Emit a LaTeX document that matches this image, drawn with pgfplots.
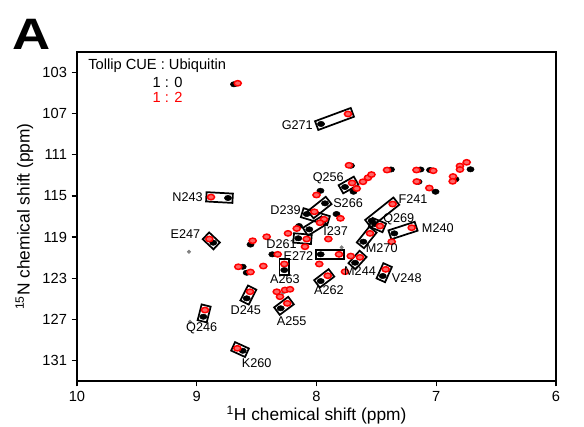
\documentclass[border=0pt]{standalone}
\usepackage{fontspec}
\setmainfont{Liberation Sans}
\usepackage{pgfplots}
\pgfplotsset{compat=1.18}
\usetikzlibrary{calc}

\newcommand{\pbox}[4]{\draw[line width=1.3pt] let \p1=(axis cs:#1,#2), \p2=(axis cs:#3,#4), \n1={atan2(\y2-\y1,\x2-\x1)}, \n2={veclen(\x2-\x1,\y2-\y1)} in ($(\p1)!0.5!(\p2)$) node[draw, line width=1.3pt, rotate=\n1, minimum width=\n2+7pt, minimum height=7pt, inner sep=0pt] {};}

\begin{document}
\begin{tikzpicture}
\useasboundingbox (-57.75pt,-34.5pt) rectangle (380.25pt,285.75pt);
\begin{axis}[at={(0,0)}, anchor=south west, scale only axis,
  width=359.25pt, height=246.75pt,
  xmin=6, xmax=10, x dir=reverse, ymin=101, ymax=133, y dir=reverse,
  xtick={6,7,8,9,10}, ytick={103,107,111,115,119,123,127,131},
  tick align=outside, xtick pos=bottom, ytick pos=left, major tick length=4pt,
  axis line style={line width=1.1pt}, tick style={line width=1pt, black},
  ticklabel style={font=\fontsize{11}{11}\selectfont},
  /pgf/number format/assume math mode=true,
  xlabel={\textsuperscript{1}H chemical shift (ppm)},
  ylabel={\textsuperscript{15}N chemical shift (ppm)},
  label style={font=\fontsize{13}{13}\selectfont},
  xlabel style={yshift=3pt},
  clip=false]
% boxes
\pbox{7.962}{108.00}{7.737}{107.03}
\pbox{7.762}{114.13}{7.703}{113.74}
\pbox{8.881}{115.11}{8.739}{115.20}
\pbox{8.018}{116.54}{7.929}{115.72}
\pbox{8.082}{116.76}{7.937}{117.27}
\pbox{8.060}{118.25}{7.971}{117.61}
\pbox{7.539}{117.41}{7.364}{115.79}
\pbox{7.511}{117.73}{7.470}{117.93}
\pbox{7.350}{118.64}{7.205}{118.09}
\pbox{7.609}{119.45}{7.553}{118.64}
\pbox{8.895}{119.19}{8.862}{119.55}
\pbox{8.152}{119.12}{8.082}{119.19}
\pbox{7.965}{120.68}{7.812}{120.68}
\pbox{7.678}{121.50}{7.637}{120.97}
\pbox{8.269}{121.62}{8.269}{122.21}
\pbox{7.422}{122.14}{7.447}{122.79}
\pbox{7.965}{123.28}{7.906}{122.76}
\pbox{8.555}{124.32}{8.583}{124.96}
\pbox{8.299}{125.93}{8.244}{125.45}
\pbox{8.931}{126.10}{8.945}{126.75}
\pbox{8.661}{129.82}{8.616}{130.06}
% 1:0 (black)
\addplot[only marks, mark=*, mark size=2pt, mark options={xscale=1.35, fill=black, draw=black}] coordinates {
(8.689,104.14) (7.962,108.00) (7.712,112.06) (7.378,112.43) (7.131,112.43)
(7.052,112.48) (6.714,112.41) (6.839,113.38) (7.148,113.62) (7.006,114.59)
(7.691,114.59) (7.762,114.13) (7.967,114.50) (8.739,115.20) (7.929,115.72)
(8.082,116.76) (7.833,116.76) (8.060,118.25) (7.539,117.41) (7.511,117.73)
(7.350,118.64) (7.609,119.45) (8.862,119.55) (8.152,119.12) (8.146,117.93)
(8.551,119.73) (8.369,120.68) (7.965,120.68) (7.678,121.50) (8.269,122.21)
(7.447,122.79) (7.965,123.28) (8.616,121.89) (8.583,122.47) (8.299,125.93)
(8.583,124.96) (8.945,126.75) (8.616,130.06)
};
\addplot[only marks, mark=*, mark size=1.3pt, mark options={fill=gray, draw=gray}] coordinates {
(9.065,120.43) (8.280,124.44) (9.056,127.24) (7.790,120.00)
};
% 1:2 (red)
\addplot[only marks, mark=*, mark size=2pt, mark options={xscale=1.35, fill=red!60!white, draw=red, line width=1.1pt}] coordinates {
(8.658,104.04) (7.737,107.03) (7.729,112.02) (7.411,112.48) (7.165,112.48)
(7.025,112.55) (6.802,112.09) (6.746,111.73) (6.802,112.43) (6.860,113.11)
(6.863,113.58) (7.163,113.60) (7.058,114.23) (7.612,113.62) (7.570,113.23)
(7.541,112.92) (7.664,114.28) (7.703,113.74) (8.000,114.91) (8.881,115.11)
(8.018,116.54) (7.937,117.27) (7.800,117.18) (7.971,117.61) (7.364,115.79)
(7.470,117.93) (7.205,118.09) (7.372,119.45) (7.553,118.64) (8.895,119.19)
(8.082,119.19) (7.901,119.19) (8.165,118.17) (8.238,118.64) (8.416,118.97)
(8.533,119.36) (8.324,120.68) (8.096,119.94) (7.812,120.68) (7.714,120.85)
(7.637,120.97) (7.762,122.37) (7.977,121.62) (8.269,121.62) (7.422,122.14)
(7.906,122.76) (8.653,121.89) (8.444,121.82) (8.551,122.40) (8.332,124.32)
(8.263,124.15) (8.221,124.08) (8.305,124.80) (8.244,125.45) (8.555,124.32)
(8.931,126.10) (8.661,129.82)
};
\end{axis}
\begin{scope}[x=0.75pt, y=-0.75pt, shift={(-57.75pt,285.75pt)}]
\node[font=\fontsize{33}{33}\selectfont\bfseries, anchor=base west, inner sep=0pt, xscale=1.2] at (12,50) {A};
\begin{scope}[font=\fontsize{11}{11}\selectfont]
\node[anchor=west, inner sep=0pt] at (88,66) {Tollip CUE : Ubiquitin};
\node[inner sep=0pt] at (167.5,82) {1 : 0};
\node[inner sep=0pt, text=red] at (167.5,97) {1 : 2};
\end{scope}
\begin{scope}[font=\fontsize{9.5}{9.5}\selectfont, inner sep=0pt]
\node[anchor=east] at (313,125) {G271};
\node[anchor=east] at (344,178) {Q256};
\node[anchor=east] at (203,196.7) {N243};
\node[anchor=east] at (200.5,234.3) {E247};
\node[anchor=east] at (301,210) {D239};
\node[anchor=west] at (333,203.5) {S266};
\node[anchor=west] at (323,231) {I237};
\node[anchor=east] at (297,244.5) {D261};
\node[anchor=east] at (313.5,256.5) {E272};
\node at (285,279.5) {A263};
\node at (329,290) {A262};
\node at (360,270.7) {M244};
\node[anchor=west] at (391.7,278.3) {V248};
\node at (381.7,248.3) {M270};
\node[anchor=west] at (383,219.3) {Q269};
\node[anchor=west] at (398.3,199.3) {F241};
\node[anchor=west] at (421.7,228.3) {M240};
\node at (245.8,310) {D245};
\node at (201.7,328.3) {Q246};
\node at (291.7,321) {A255};
\node at (256.7,363.3) {K260};
\end{scope}
\end{scope}
\end{tikzpicture}
\end{document}
